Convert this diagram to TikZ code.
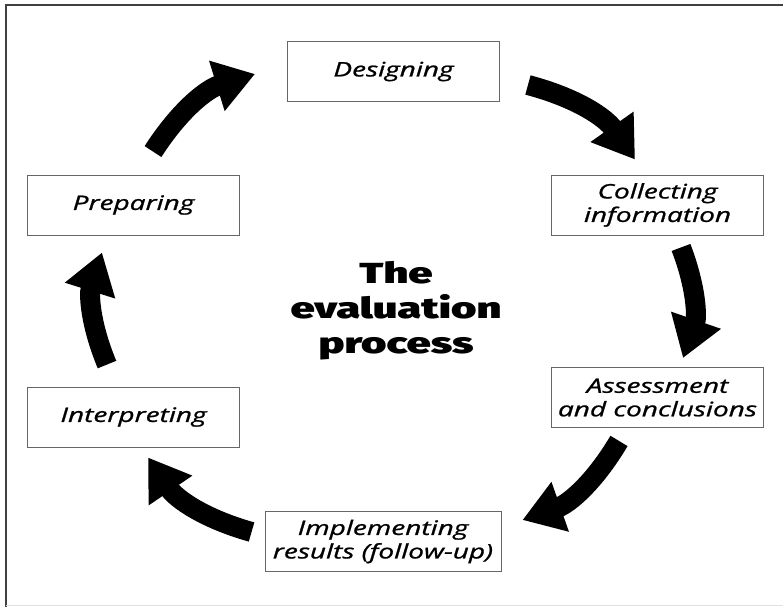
\documentclass[tikz,border=0pt]{standalone}
\usepackage{fontspec}
\setmainfont{Open Sans}
\newfontfamily\labelfont{Open Sans}[FakeStretch=1.4, FakeBold=1]
\newfontfamily\titlefont{Fira Sans Black}[FakeStretch=1.5]
\usetikzlibrary{arrows.meta,calc}

\begin{document}
\begin{tikzpicture}[x=1pt, y=-1pt]
    \tikzstyle{stage}=[draw=black!60, line width=0.9pt, minimum width=212pt, minimum height=60pt, inner sep=0pt, align=center, font=\labelfont\fontsize{20}{23.5}\selectfont\itshape]
    \tikzstyle{bigarrow}=[line width=20pt, -{Triangle[length=40pt,width=50pt]}]
    \useasboundingbox (0,0) rectangle (783,607);
    \draw[black!75, line width=2pt] (6,607) -- (6,5) -- (783,5);
    \draw[black!12, line width=1pt] (6,605.5) -- (783,605.5);
    \node[stage] (p1) at (393.5,71.5){Designing};
    \node[stage] (p2) at (657.5,205){Collecting\\information};
    \node[stage] (p3) at (657.5,397.5){Assessment\\and conclusions};
    \node[stage, minimum width=236pt] (p4) at (383,541.5){Implementing\\results (follow-up)};
    \node[stage] (p5) at (133.5,417){Interpreting};
    \node[stage] (p6) at (133.5,205){Preparing};
    \node[align=center, font=\titlefont\fontsize{29}{35}\selectfont] (t) at (396,311){The\\evaluation\\process};
    \draw[bigarrow] ($(p6.north)+(19.5,-23)$) to[bend left=20] ($(p1.west)+(-32,2.5)$);
    \draw[bigarrow] ($(p1.east)+(28,13.5)$) to[bend left=20] ($(p2.north)+(-22.5,-15)$);
    \draw[bigarrow] ($(p2.south)+(23.5,12)$) to[bend left=20] ($(p3.north)+(25.5,-9)$);
    \draw[bigarrow] ($(p3.south)+(-38.5,13)$) to[bend left=20] ($(p4.east)+(21,-21.5)$);
    \draw[bigarrow] ($(p4.west)+(-13,-9.5)$) to[bend left=20] ($(p5.south)+(14.5,10)$);
    \draw[bigarrow] ($(p5.north)+(-26.5,-22)$) to[bend left=20] ($(p6.south)+(-31.5,17)$);
  \end{tikzpicture}
\end{document}
